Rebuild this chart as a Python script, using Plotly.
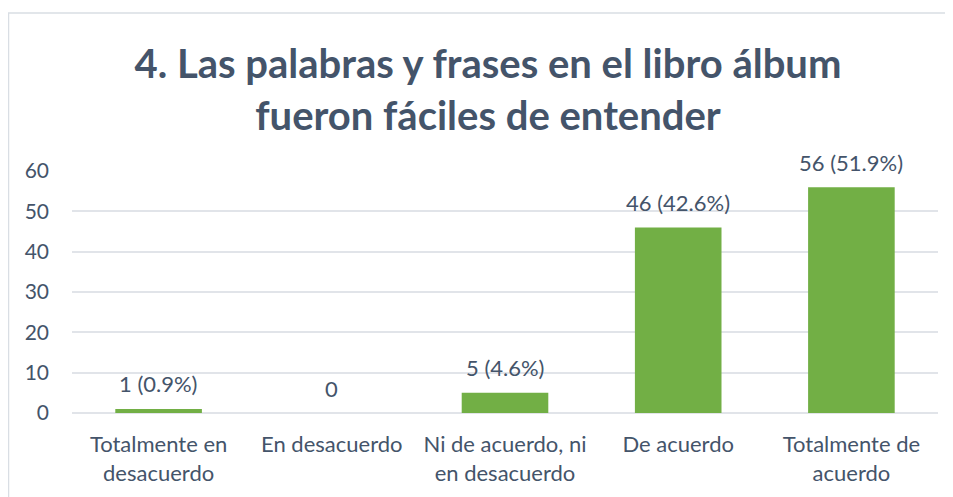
import plotly.graph_objects as go

categorias = ['Totalmente en<br>desacuerdo', 'En desacuerdo', 'Ni de acuerdo, ni<br>en desacuerdo',
              'De acuerdo', 'Totalmente de<br>acuerdo']
valores = [1, 0, 5, 46, 56]
porcentajes = [0.9, None, 4.6, 42.6, 51.9]

etiquetas = [f'{v} ({p}%)' if p is not None else f'{v}' for v, p in zip(valores, porcentajes)]

cor_texto = '#44546A'
cor_grade = '#E1E4E9'

fig = go.Figure(go.Bar(
    x=categorias, y=valores,
    marker=dict(color='#72AF45', line=dict(width=0)),
    width=0.5,
))

# rótulos de dados acima das barras
for cat, v, txt in zip(categorias, valores, etiquetas):
    fig.add_annotation(x=cat, y=v, text=txt, showarrow=False, yanchor='middle', yshift=25,
                       font=dict(family='Lato', size=22, color=cor_texto))

# margens em pixels (a página já tem 8px de margem no body)
l, r, t, b = 64, 23, 163, 92
W, H = 953, 497
pw, ph = W - l - r, H - t - b

# moldura do gráfico
fig.add_shape(type='rect', xref='paper', yref='paper',
              x0=(0.5 - l) / pw, x1=1 + (r + 20) / pw,
              y0=-(b + 20) / ph, y1=1 + (t - 5) / ph,
              line=dict(color='#D9DEE4', width=1.5), layer='below')

fig.update_layout(
    width=W, height=H,
    margin=dict(l=l, r=r, t=t, b=b),
    plot_bgcolor='white', paper_bgcolor='white',
    showlegend=False,
    title=dict(text='<b>4. Las palabras y frases en el libro álbum<br>fueron fáciles de entender</b>',
               x=480 / W, xanchor='center', xref='container',
               y=1 - 70 / H, yanchor='middle', yref='container',
               font=dict(family='Lato', size=40, color=cor_texto)),
    xaxis=dict(tickfont=dict(family='Lato', size=22, color=cor_texto), showgrid=False,
               showline=False, ticks='', ticklabelstandoff=16),
    yaxis=dict(range=[0, 60], dtick=10, gridcolor=cor_grade, gridwidth=1.5,
               zeroline=True, zerolinecolor=cor_grade, zerolinewidth=1.5,
               tickfont=dict(family='Lato', size=21, color=cor_texto), ticks='', ticklabelstandoff=22),
)

fig.write_html('out.html')
